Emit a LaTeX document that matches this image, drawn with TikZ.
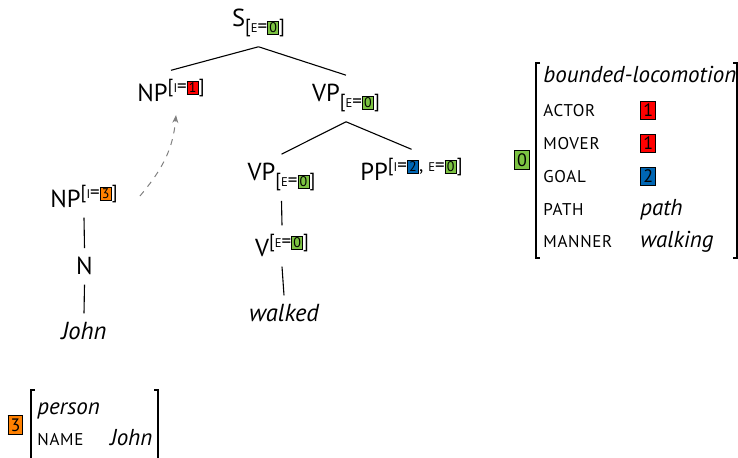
\documentclass[tikz,border=0pt]{standalone}
\usepackage{fontspec}
\setmainfont{PT Sans}
\newfontfamily\scfont[LetterSpace=4]{PT Sans}
\usetikzlibrary{arrows.meta}
\definecolor{tgreen}{RGB}{124,194,66}
\definecolor{tred}{RGB}{255,0,0}
\definecolor{torange}{RGB}{255,128,0}
\definecolor{tblue}{RGB}{0,102,179}
\definecolor{arrgray}{RGB}{128,128,128}
\newcommand\smc[1]{{\fontsize{6.3}{7}\selectfont #1}}
\newcommand\tbox[2]{{\setlength\fboxsep{0.6pt}\setlength\fboxrule{0.5pt}\fcolorbox{black}{#1}{\fontsize{7}{8}\selectfont\vphantom{0}#2}}}
\newcommand\valbox[2]{{\setlength\fboxsep{1pt}\setlength\fboxrule{0.5pt}\fcolorbox{black}{#1}{\fontsize{9}{10}\selectfont\vphantom{0}#2}}}
\newcommand\ftsub[1]{\raisebox{-3pt}{\fontsize{9.5}{10}\selectfont[#1]}}
\newcommand\ftsup[1]{\raisebox{4.5pt}{\fontsize{9.5}{10}\selectfont[#1]}}
\newcommand\attr[1]{{\scfont\fontsize{8.5}{10}\selectfont #1}}
\begin{document}
\begin{tikzpicture}[x=0.5pt,y=-0.5pt,
  font=\fontsize{12.3}{14}\selectfont,
  tn/.style={anchor=base,inner xsep=0pt,inner ysep=4.5pt},
  tedge/.style={line width=0.55pt},
  lbl/.style={anchor=base west,inner sep=0pt,font=\fontsize{11.5}{14}\selectfont},
  avmbr/.style={line width=0.6pt},
  mvarrow/.style={arrgray,dashed,line width=0.5pt,-{Stealth[length=4pt,width=3pt]}}]
\useasboundingbox (0,0) rectangle (738,458);
% tree
\node[tn] (S) at (258.5,27) {S\ftsub{\smc{E}=\tbox{tgreen}{0}}};
\node[tn] (NP1) at (171,102) {NP\ftsup{\smc{I}=\tbox{tred}{1}}};
\node[tn] (VP1) at (346,102) {VP\ftsub{\smc{E}=\tbox{tgreen}{0}}};
\node[tn] (VP2) at (281.5,181) {VP\ftsub{\smc{E}=\tbox{tgreen}{0}}};
\node[tn] (PP) at (411.5,181) {PP\ftsup{\smc{I}=\tbox{tblue}{2}, \smc{E}=\tbox{tgreen}{0}}};
\node[tn] (NP3) at (84,208) {NP\ftsup{\smc{I}=\tbox{torange}{3}}};
\node[tn] (V) at (282,257) {V\ftsup{\smc{E}=\tbox{tgreen}{0}}};
\node[tn] (N) at (84.5,275) {N};
\node[tn] (walked) at (284,322) {\itshape walked};
\node[tn] (John) at (84,340) {\itshape John};
\draw[tedge] (S.south) -- (NP1.north);
\draw[tedge] (S.south) -- (VP1.north);
\draw[tedge] (VP1.south) -- (VP2.north);
\draw[tedge] (VP1.south) -- (PP.north);
\draw[tedge] (NP3.south) -- (N.north);
\draw[tedge] (N.south) -- (John.north);
\draw[tedge] (VP2.south) -- (V.north);
\draw[tedge] (V.south) -- (walked.north);
\coordinate (mvS) at ([xshift=11pt,yshift=6pt]NP3.base east);
\coordinate (mvE) at ([xshift=2.5pt,yshift=-6.5pt]NP1.base);
\draw[mvarrow] (mvS) to[out=50,in=-95] (mvE);
% upper AVM
\node[inner sep=0pt] (tag0) at (522,160) {\valbox{tgreen}{0}};
\draw[avmbr] (540,63) -- (536,63) -- (536,258) -- (540,258);
\draw[avmbr] (733,63) -- (737,63) -- (737,258) -- (733,258);
\node[lbl] (type1) at (543,83) {\itshape bounded-locomotion};
\node[lbl] (a1) at (543,117) {\attr{ACTOR}};
\node[lbl] (v1) at (640,117) {\valbox{tred}{1}};
\node[lbl] (a2) at (543,150) {\attr{MOVER}};
\node[lbl] (v2) at (640,150) {\valbox{tred}{1}};
\node[lbl] (a3) at (543,183) {\attr{GOAL}};
\node[lbl] (v3) at (640,183) {\valbox{tblue}{2}};
\node[lbl] (a4) at (543,216) {\attr{PATH}};
\node[lbl] (v4) at (640,216) {\itshape path};
\node[lbl] (a5) at (543,248) {\attr{MANNER}};
\node[lbl] (v5) at (640,248) {\itshape walking};
% lower AVM
\node[inner sep=0pt] (tag3) at (15.5,425) {\valbox{torange}{3}};
\draw[avmbr] (35,390) -- (31,390) -- (31,460);
\draw[avmbr] (154,390) -- (158,390) -- (158,460);
\node[lbl] (type2) at (37,415) {\itshape person};
\node[lbl] (a6) at (37,446) {\attr{NAME}};
\node[lbl] (v6) at (110,446) {\itshape John};
\end{tikzpicture}
\end{document}
